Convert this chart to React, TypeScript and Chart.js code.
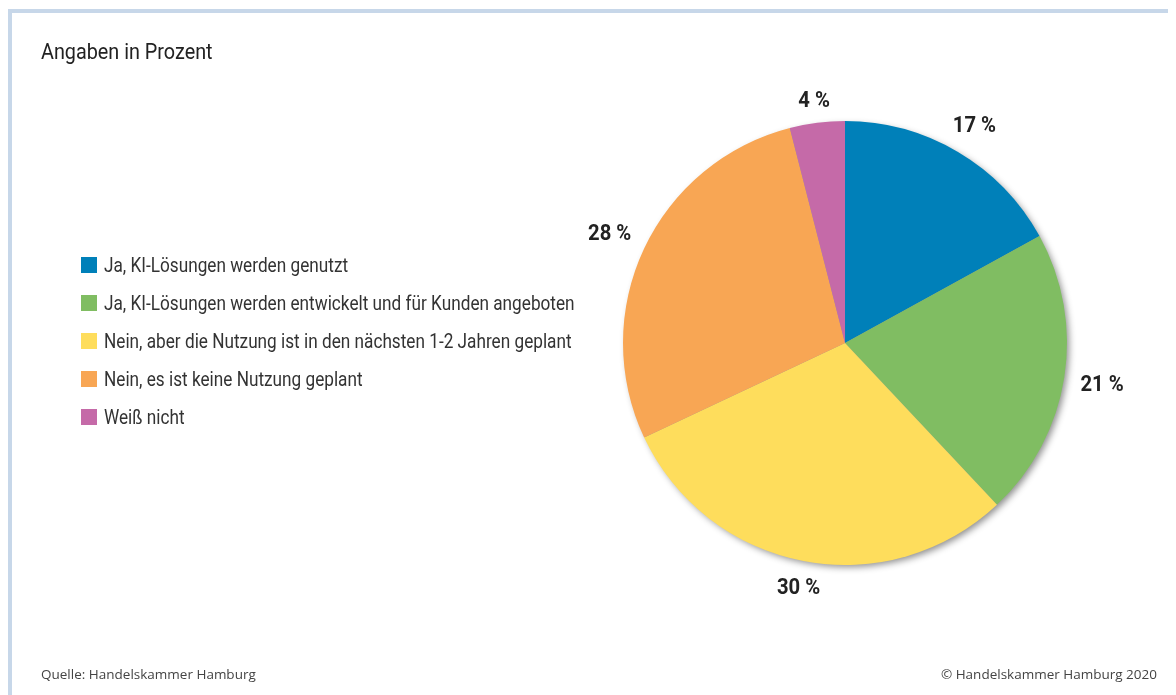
import React, { useEffect, useRef } from "react";
import { Chart, registerables } from "chart.js";

Chart.register(...registerables);

const titleText = "Angaben in Prozent";
const categories = [
  "Ja, KI-Lösungen werden genutzt",
  "Ja, KI-Lösungen werden entwickelt und für Kunden angeboten",
  "Nein, aber die Nutzung ist in den nächsten 1-2 Jahren geplant",
  "Nein, es ist keine Nutzung geplant",
  "Weiß nicht",
];
const values = [17, 21, 30, 28, 4];
const sliceColors = ["#0080b9", "#80bd62", "#fedd5c", "#f8a654", "#c56aa8"];
const sourceText = "Quelle: Handelskammer Hamburg";
const copyrightText = "© Handelskammer Hamburg 2020";

const NARROW = 'Roboto, "Liberation Sans", sans-serif';
const FOOT = '"Open Sans", "Noto Sans", sans-serif';
const SQUEEZE = 0.86;
const TITLE_SQUEEZE = 0.9;
const LABEL_SQUEEZE = 0.92;

const shadowPlugin = {
  id: "pieShadow",
  beforeDatasetsDraw(chart: any) {
    const meta = chart.getDatasetMeta(0);
    const arc = meta.data[0];
    if (!arc) return;
    const { x, y, outerRadius } = arc.getProps(["x", "y", "outerRadius"], true);
    const ctx = chart.ctx;
    ctx.save();
    ctx.shadowColor = "rgba(0,0,0,0.45)";
    ctx.shadowBlur = 7;
    ctx.shadowOffsetX = 3;
    ctx.shadowOffsetY = 3;
    ctx.beginPath();
    ctx.arc(x, y, outerRadius - 1, 0, Math.PI * 2);
    ctx.fillStyle = "#999";
    ctx.fill();
    ctx.restore();
  },
};

const labelPlugin = {
  id: "pctLabels",
  afterDatasetsDraw(chart: any) {
    const meta = chart.getDatasetMeta(0);
    const ctx = chart.ctx;
    ctx.save();
    ctx.font = `bold 22px ${NARROW}`;
    ctx.fillStyle = "#222";
    ctx.textAlign = "center";
    ctx.textBaseline = "middle";
    meta.data.forEach((arc: any, i: number) => {
      const { x, y, startAngle, endAngle, outerRadius } = arc.getProps(
        ["x", "y", "startAngle", "endAngle", "outerRadius"],
        true
      );
      const mid = (startAngle + endAngle) / 2;
      const text = `${values[i]} %`;
      const w = ctx.measureText(text).width * LABEL_SQUEEZE;
      const h = 12;
      const r = outerRadius + 16 + (w / 2) * Math.abs(Math.cos(mid)) + (h / 2) * Math.abs(Math.sin(mid));
      const lx = x + r * Math.cos(mid);
      const ly = y + r * Math.sin(mid);
      ctx.save();
      ctx.translate(lx, ly);
      ctx.scale(LABEL_SQUEEZE, 1);
      ctx.fillText(text, 0, 2);
      ctx.restore();
    });
    ctx.restore();
  },
};

export default function App() {
  const canvasRef = useRef<HTMLCanvasElement | null>(null);

  useEffect(() => {
    if (!canvasRef.current) return;
    const chart = new Chart(canvasRef.current, {
      type: "pie",
      data: {
        labels: categories,
        datasets: [
          {
            data: values,
            backgroundColor: sliceColors,
            borderWidth: 0,
          },
        ],
      },
      options: {
        animation: false,
        responsive: false,
        maintainAspectRatio: false,
        layout: { padding: { left: 615, right: 109, top: 113, bottom: 130 } },
        plugins: {
          legend: { display: false },
          tooltip: { enabled: false },
        },
      },
      plugins: [shadowPlugin, labelPlugin],
    });
    return () => chart.destroy();
  }, []);

  const squeezed = (k: number, extra: React.CSSProperties = {}): React.CSSProperties => ({
    display: "inline-block",
    transform: `scaleX(${k})`,
    transformOrigin: "left center",
    whiteSpace: "nowrap",
    ...extra,
  });

  return (
    <div style={{ position: "relative", width: 1168, height: 687, overflow: "hidden", background: "#fff" }}>
      <div
        style={{
          position: "absolute",
          left: 0,
          top: 1,
          width: 1300,
          height: 800,
          borderTop: "4px solid #c7d7e9",
          borderLeft: "4px solid #c7d7e9",
        }}
      />
      <canvas ref={canvasRef} width={1168} height={687} style={{ position: "absolute", left: 0, top: 0 }} />
      <div
        style={{
          position: "absolute",
          left: 33,
          top: 30,
          fontFamily: NARROW,
          fontSize: 22,
          color: "#222",
          lineHeight: "28px",
        }}
      >
        <span style={squeezed(TITLE_SQUEEZE)}>{titleText}</span>
      </div>
      <div style={{ position: "absolute", left: 73, top: 238 }}>
        {categories.map((c, i) => (
          <div key={c} style={{ display: "flex", alignItems: "center", height: 38 }}>
            <span style={{ display: "inline-block", width: 16, height: 16, background: sliceColors[i], marginRight: 7, flex: "none" }} />
            <span style={squeezed(SQUEEZE, { fontFamily: NARROW, fontSize: 20, color: "#333" })}>{c}</span>
          </div>
        ))}
      </div>
      <div style={{ position: "absolute", left: 33, top: 666, fontFamily: FOOT, fontSize: 13.5, color: "#444", lineHeight: "20px", transform: "translateY(-50%)" }}>
        {sourceText}
      </div>
      <div style={{ position: "absolute", right: 19, top: 666, fontFamily: FOOT, fontSize: 13.5, color: "#444", lineHeight: "20px", transform: "translateY(-50%)" }}>
        {copyrightText}
      </div>
    </div>
  );
}
